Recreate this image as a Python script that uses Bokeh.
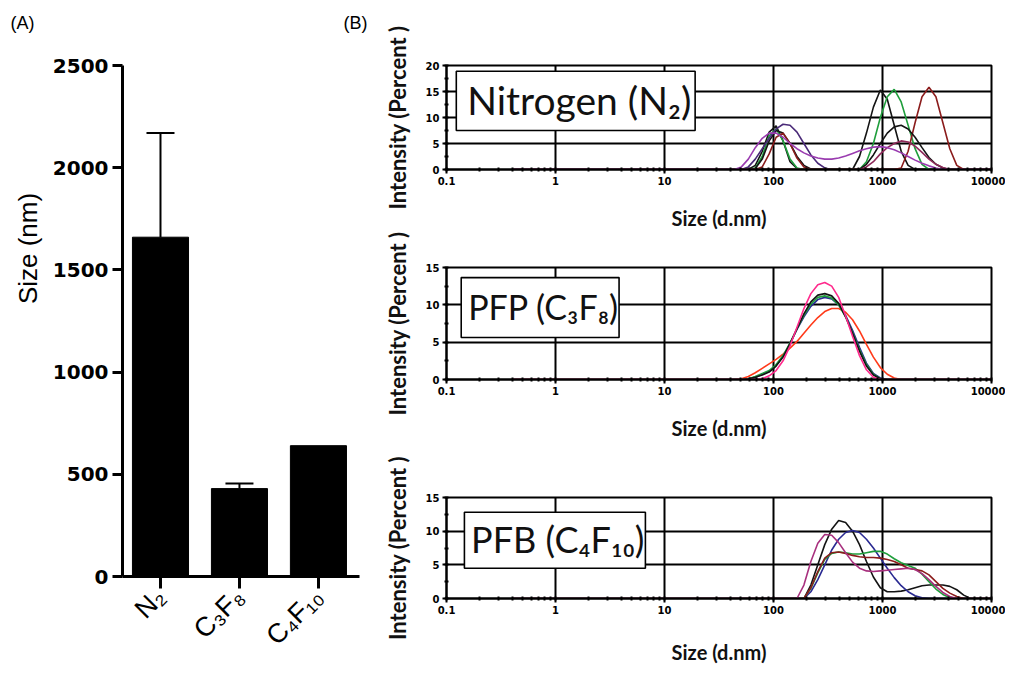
import math
from bokeh.plotting import figure
from bokeh.layouts import row, column
from bokeh.models import (Range1d, FixedTicker, SingleIntervalTicker, LogTicker,
                          CustomJSTickFormatter, BoxAnnotation, Label, Whisker,
                          TeeHead, ColumnDataSource)
from bokeh.core.properties import value
from bokeh.embed import file_html
from bokeh.resources import INLINE

# ---------------- Panel A data ----------------
categories = ["N\u2082", "C\u2083F\u2088", "C\u2084F\u2081\u2080"]
mean_size = [1660, 430, 640]
err_size = [510, 25, 0]
y_ticks_a = [0, 500, 1000, 1500, 2000, 2500]

# ---------------- Panel B data ----------------
# instrument size bins (d.nm)
sizes = [0.4, 0.4632, 0.5365, 0.6213, 0.7195, 0.8332, 0.9649, 1.117, 1.294, 1.499,
         1.736, 2.01, 2.328, 2.696, 3.122, 3.615, 4.187, 4.849, 5.615, 6.503,
         7.531, 8.721, 10.1, 11.7, 13.54, 15.69, 18.17, 21.04, 24.36, 28.21,
         32.67, 37.84, 43.82, 50.75, 58.77, 68.06, 78.82, 91.28, 105.7, 122.4,
         141.8, 164.2, 190.1, 220.2, 255.0, 295.3, 342.0, 396.1, 458.7, 531.2,
         615.1, 712.4, 825.0, 955.4, 1106, 1281, 1484, 1718, 1990, 2305,
         2669, 3091, 3580, 4145, 4801, 5560, 6439, 7456, 8635, 10000]

# Nitrogen (N2): (first bin index, intensity values %)
n2_black_a = (35, [0.8, 3.5, 7.2, 8.4, 5.5, 1.5, 0.2])
n2_green_a = (35, [0.3, 2.5, 6.5, 7.8, 5.5, 2.0, 0.3])
n2_black_b = (35, [0.2, 2.0, 5.5, 7.5, 7.0, 5.0, 2.5, 0.8, 0.1])
n2_red_a = (36, [0.5, 3.0, 6.2, 7.0, 5.0, 2.2, 0.5])
n2_violet = (34, [0.5, 2.0, 4.0, 6.0, 7.8, 8.7, 8.5, 7.2, 5.0, 2.8, 1.2, 0.3])
n2_black_tall = (50, [2.5, 7.0, 12.0, 15.3, 13.5, 8.5, 3.5, 0.8])
n2_green_tall = (51, [1.5, 5.0, 10.0, 14.0, 15.4, 13.0, 8.5, 4.0, 1.0])
n2_red_tall = (56, [0.3, 3.5, 9.0, 14.0, 15.8, 14.0, 9.0, 4.0, 0.8])
n2_black_broad = (51, [1.0, 2.8, 5.0, 7.0, 8.2, 8.5, 7.8, 6.2, 4.2, 2.3, 1.0, 0.3])
n2_maroon = (51, [0.5, 1.5, 3.0, 4.2, 5.0, 5.5, 5.3, 4.5, 3.3, 2.0, 1.0, 0.4])
n2_purple = (33, [0.5, 2.0, 4.2, 6.0, 7.0, 7.0, 6.2, 5.0, 4.0, 3.2, 2.6, 2.2, 2.0, 2.0,
                  2.2, 2.6, 3.1, 3.6, 4.0, 4.3, 4.4, 4.2, 3.8, 3.2, 2.5, 1.8, 1.2, 0.7, 0.3])

# PFP (C3F8)
pfp_red = (33, [0.1, 0.4, 0.9, 1.5, 2.1, 2.7, 3.4, 4.2, 5.1, 6.2, 7.3, 8.3, 9.1, 9.5,
                9.5, 9.0, 8.0, 6.5, 4.7, 3.0, 1.6, 0.7, 0.2])
pfp_blue = (34, [0.1, 0.3, 0.7, 1.1, 1.9, 3.1, 4.8, 6.7, 8.4, 9.8, 10.7, 11.0, 10.8,
                 10.0, 8.6, 6.6, 4.3, 2.2, 0.8, 0.2])
pfp_green = (34, [0.1, 0.4, 0.8, 1.2, 2.0, 3.2, 4.9, 6.8, 8.6, 10.1, 11.0, 11.2, 10.9,
                  10.0, 8.4, 6.3, 4.0, 2.0, 0.7, 0.1])
pfp_black = (34, [0.1, 0.3, 0.6, 1.0, 1.8, 3.0, 4.8, 6.8, 8.8, 10.4, 11.3, 11.5, 11.2,
                  10.2, 8.4, 6.2, 3.8, 1.8, 0.6, 0.1])
pfp_pink = (36, [0.1, 0.5, 1.2, 2.5, 4.5, 7.0, 9.5, 11.5, 12.7, 13.0, 12.5, 11.0, 8.5,
                 5.8, 3.2, 1.3, 0.3])

# PFB (C4F10)
pfb_black = (43, [2.0, 5.0, 8.0, 10.3, 11.6, 11.3, 10.0, 8.0, 5.5, 3.2, 1.6, 1.0, 1.0,
                  1.1, 1.3, 1.6, 1.9, 2.0, 2.0, 2.0, 1.8, 1.3, 0.5])
pfb_navy = (43, [1.0, 2.8, 5.0, 7.2, 8.8, 9.8, 10.1, 9.8, 8.8, 7.5, 6.0, 4.5, 3.1, 1.9,
                 1.0, 0.4, 0.1])
pfb_green = (43, [1.5, 3.8, 5.8, 6.7, 6.9, 6.8, 6.6, 6.6, 6.8, 7.0, 7.0, 6.6, 5.9, 5.3,
                  4.9, 4.5, 3.6, 2.5, 1.4, 0.6, 0.1])
pfb_red = (43, [1.6, 4.0, 6.0, 6.8, 6.9, 6.7, 6.4, 6.2, 6.1, 6.1, 6.0, 5.8, 5.5, 5.0,
                4.5, 4.3, 4.1, 3.5, 2.5, 1.5, 0.8, 0.3])
pfb_magenta = (42, [2.0, 5.5, 8.2, 9.5, 9.4, 8.3, 6.8, 5.4, 4.5, 4.1, 4.0, 4.1, 4.2, 4.3,
                    4.4, 4.5, 4.3, 3.7, 2.8, 1.8, 0.9, 0.3])

BLACK = "#141414"
GREEN = "#1f9e3c"
DRED = "#8b1c1c"
VIOLET = "#4a2a78"
PURPLE = "#9a3cb0"
MAROON = "#8e2a5a"
NAVY = "#2a2a92"
PINK = "#ff2a8c"
RED = "#ff3a1a"
MAGENTA = "#a8307e"


def full(curve):
    start, vals = curve
    return [0.0] * start + list(vals) + [0.0] * (len(sizes) - start - len(vals))


def blank(w, h, top=0, bottom=0):
    f = figure(width=w, height=h, x_range=Range1d(0, w), y_range=Range1d(0, h - top - bottom),
               output_backend="svg", toolbar_location=None, min_border=0,
               min_border_top=top, min_border_bottom=bottom)
    f.axis.visible = False
    f.grid.visible = False
    f.outline_line_color = None
    return f


# ---------------- header with panel letters ----------------
head = blank(380, 40)
head.text(x=[10, 343], y=[18, 18], text=["(A)", "(B)"], text_font=value("Liberation Sans"),
          text_font_size="18px", text_baseline="middle", text_align="left", text_color="black")

# ---------------- y label strip for panel A (same frame as panel A) ----------------
lab = blank(45, 626, top=25, bottom=90)
lab.text(x=[27], y=[328], text=["Size (nm)"], angle=math.pi / 2,
         text_font=value("Liberation Sans"), text_font_size="26px",
         text_baseline="middle", text_align="center", text_color="black")

# ---------------- Panel A ----------------
xa = [i + 1 for i in range(len(categories))]
pa = figure(width=335, height=626, x_range=Range1d(0.519, 3.52), y_range=Range1d(0, 2500),
            output_backend="svg", toolbar_location=None,
            min_border_left=77, min_border_right=21, min_border_top=25, min_border_bottom=90)
pa.vbar(x=xa, top=mean_size, width=0.71, color="black")
wx = [x for x, e in zip(xa, err_size) if e > 0]
wl = [m for m, e in zip(mean_size, err_size) if e > 0]
wu = [m + e for m, e in zip(mean_size, err_size) if e > 0]
src = ColumnDataSource(dict(x=wx, lower=wl, upper=wu))
pa.add_layout(Whisker(base="x", lower="lower", upper="upper", source=src,
                      line_width=2, line_color="black",
                      upper_head=TeeHead(size=28, line_width=2, line_color="black"),
                      lower_head=None))
pa.grid.visible = False
pa.outline_line_color = None
ya = pa.yaxis[0]
ya.ticker = FixedTicker(ticks=y_ticks_a)
ya.axis_line_width = 3
ya.axis_line_color = "black"
ya.major_tick_line_width = 3
ya.major_tick_line_color = "black"
ya.major_tick_out = 10
ya.major_tick_in = 0
ya.minor_tick_line_color = None
ya.major_label_text_font = "DejaVu Sans"
ya.major_label_text_font_style = "bold"
ya.major_label_text_font_size = "20px"
ya.major_label_text_color = "black"
ya.major_label_standoff = 4
xax = pa.xaxis[0]
xax.ticker = FixedTicker(ticks=xa)
xax.major_label_overrides = {x: c for x, c in zip(xa, categories)}
xax.major_label_orientation = math.pi / 4
xax.major_label_text_font = "Liberation Sans"
xax.major_label_text_font_size = "27px"
xax.major_label_text_color = "black"
xax.axis_line_width = 3
xax.axis_line_color = "black"
xax.major_tick_line_width = 3
xax.major_tick_line_color = "black"
xax.major_tick_out = 12
xax.major_tick_in = 0
xax.minor_tick_line_color = None
xax.major_label_standoff = 4


# ---------------- Panel B ----------------
def dls(height, top, bottom, left, right, ymax, grid_y, curves, box, label, xstand=18):
    p = figure(width=625, height=height, x_axis_type="log",
               x_range=Range1d(0.1, 10000), y_range=Range1d(0, ymax),
               output_backend="svg", toolbar_location=None,
               min_border_left=left, min_border_right=right,
               min_border_top=top, min_border_bottom=bottom)
    p.outline_line_color = "black"
    p.outline_line_width = 2
    p.outline_line_alpha = 1.0
    p.xgrid.ticker = FixedTicker(ticks=[1, 10, 100, 1000])
    p.ygrid.ticker = FixedTicker(ticks=grid_y)
    for g in (p.xgrid[0], p.ygrid[0]):
        g.grid_line_color = "black"
        g.grid_line_width = 2
        g.grid_line_alpha = 1.0
    for c, col in curves:
        p.line(sizes, full(c), line_color=col, line_width=1.6)
    l, r, b, t = box
    p.add_layout(BoxAnnotation(left=l, right=r, bottom=b, top=t, fill_color="white",
                               fill_alpha=1.0, line_color="black", line_alpha=1.0,
                               line_width=1.6))
    lx, ly, txt, fs = label
    p.add_layout(Label(x=lx, y=ly, text=txt, text_font="Lato", text_font_size=fs,
                       text_baseline="middle", text_color="#111111"))
    xa_ = p.xaxis[0]
    xa_.ticker = LogTicker(num_minor_ticks=10)
    xa_.formatter = CustomJSTickFormatter(code="return tick < 1 ? tick.toFixed(1) : tick.toFixed(0);")
    xa_.axis_label = "Size (d.nm)"
    ya_ = p.yaxis[0]
    ya_.ticker = SingleIntervalTicker(interval=5, num_minor_ticks=2)
    ya_.axis_label = "Intensity (Percent )"
    for ax in (xa_, ya_):
        ax.axis_line_width = 2
        ax.axis_line_color = "black"
        ax.major_tick_line_width = 2
        ax.major_tick_line_color = "black"
        ax.major_tick_out = 4
        ax.major_tick_in = 0
        ax.minor_tick_line_width = 2
        ax.minor_tick_line_color = "black"
        ax.minor_tick_in = 2
        ax.minor_tick_out = 2
        ax.major_label_text_font = "DejaVu Sans"
        ax.major_label_text_font_style = "bold"
        ax.major_label_text_font_size = "10px"
        ax.major_label_text_color = "black"
        ax.major_label_standoff = 3
        ax.axis_label_text_font = "Lato"
        ax.axis_label_text_font_style = "bold"
        ax.axis_label_text_color = "#111111"
    xa_.axis_label_text_font_size = "20px"
    ya_.axis_label_text_font_size = "22px"
    xa_.axis_label_standoff = xstand
    ya_.axis_label_standoff = 12
    return p


pn = dls(232, 65, 60, 61, 14, 20, [5, 10, 15],
         [(n2_black_a, BLACK), (n2_green_a, GREEN), (n2_black_b, BLACK), (n2_red_a, DRED),
          (n2_violet, VIOLET), (n2_black_tall, BLACK), (n2_green_tall, GREEN),
          (n2_red_tall, DRED), (n2_black_broad, BLACK), (n2_maroon, MAROON),
          (n2_purple, PURPLE)],
         (0.123, 19.1, 7.5, 18.9), (0.155, 13.3, "Nitrogen (N\u2082)", "39px"))

pp = dls(218, 35, 71, 56, 13, 15, [5, 10],
         [(pfp_red, RED), (pfp_blue, NAVY), (pfp_green, GREEN), (pfp_black, BLACK),
          (pfp_pink, PINK)],
         (0.1365, 3.83, 5.62, 13.65), (0.158, 9.8, "PFP (C\u2083F\u2088)", "34px"))

pb = dls(216, 47, 59, 65, 13, 15, [5, 10],
         [(pfb_black, BLACK), (pfb_navy, NAVY), (pfb_green, GREEN), (pfb_red, DRED),
          (pfb_magenta, MAGENTA)],
         (0.146, 6.68, 4.5, 12.8), (0.168, 8.9, "PFB (C\u2084F\u2081\u2080)", "36px"),
         xstand=23)

layout = row(column(head, row(lab, pa)), column(pn, pp, pb))
open("out.html", "w").write(file_html(layout, INLINE))
